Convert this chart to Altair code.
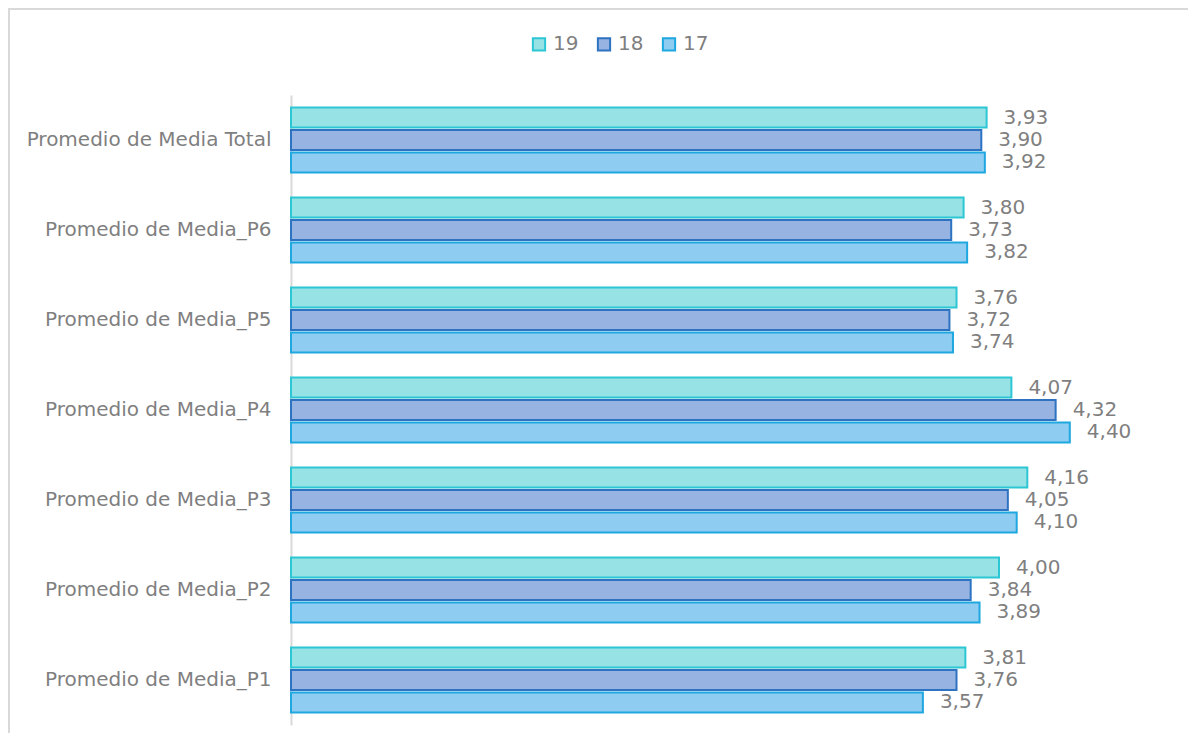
import altair as alt
import pandas as pd

categories = ["Promedio de Media Total", "Promedio de Media_P6", "Promedio de Media_P5",
              "Promedio de Media_P4", "Promedio de Media_P3", "Promedio de Media_P2",
              "Promedio de Media_P1"]
series = ["19", "18", "17"]
v19 = [3.93, 3.80, 3.76, 4.07, 4.16, 4.00, 3.81]
v18 = [3.90, 3.73, 3.72, 4.32, 4.05, 3.84, 3.76]
v17 = [3.92, 3.82, 3.74, 4.40, 4.10, 3.89, 3.57]

fills = ["#97E2E4", "#96B3E2", "#8ECCF1"]
strokes = ["#2CC6D4", "#2E73C1", "#1FA7E0"]

rows = []
for s, vals in zip(series, [v19, v18, v17]):
    for c, v in zip(categories, vals):
        rows.append({"cat": c, "serie": s, "value": v})
df = pd.DataFrame(rows)

FONT = "DejaVu Sans"
GRAY = "#7F7F7F"

y = alt.Y("cat:N", sort=categories, title=None,
          scale=alt.Scale(paddingInner=0.278, paddingOuter=0.139),
          axis=alt.Axis(ticks=False, labelPadding=20, labelFontSize=20, labelColor=GRAY,
                        labelFont=FONT, domainColor="#D9D9D9", domainWidth=2, grid=False,
                        labelLimit=400))
yoff = alt.YOffset("serie:N", sort=series,
                   scale=alt.Scale(paddingInner=0.11, paddingOuter=0))
x = alt.X("value:Q", title=None, scale=alt.Scale(domain=[0, 5], nice=False),
          axis=None)

bars = alt.Chart(df).mark_bar(strokeWidth=2).encode(
    x=x, y=y, yOffset=yoff,
    fill=alt.Fill("serie:N", sort=series,
                  scale=alt.Scale(domain=series, range=fills),
                  legend=alt.Legend(title=None, orient="none", direction="horizontal",
                                    legendX=238, legendY=-61, symbolType="square",
                                    symbolSize=150, symbolStrokeWidth=2,
                                    labelFontSize=20, labelColor=GRAY, labelFont=FONT,
                                    columnPadding=14, labelOffset=4)),
    stroke=alt.Stroke("serie:N", sort=series,
                      scale=alt.Scale(domain=series, range=strokes),
                      legend=None),
)

labels = alt.Chart(df).transform_calculate(
    lab="replace(format(datum.value, '.2f'), '.', ',')"
).mark_text(align="left", baseline="middle", dx=17, fontSize=20, font=FONT,
            color=GRAY).encode(
    x=x, y=y, yOffset=yoff, text="lab:N"
)

frame_left = alt.Chart(df).mark_rule(color="#D9D9D9", strokeWidth=2).encode(
    x=alt.value(-282), y=alt.value(-87), y2=alt.value(700))
frame_top = alt.Chart(df).mark_rule(color="#D9D9D9", strokeWidth=2).encode(
    x=alt.value(-283), x2=alt.value(900), y=alt.value(-86))

chart = alt.layer(frame_left, frame_top, bars, labels).properties(
    width=885, height=630,
    autosize=alt.AutoSizeParams(type="none"),
    padding={"left": 283, "top": 87, "right": 12, "bottom": 8},
).configure(background="white").configure_view(stroke=None, strokeWidth=0)

chart.save("out.html", embed_options={"renderer": "svg", "actions": False})
